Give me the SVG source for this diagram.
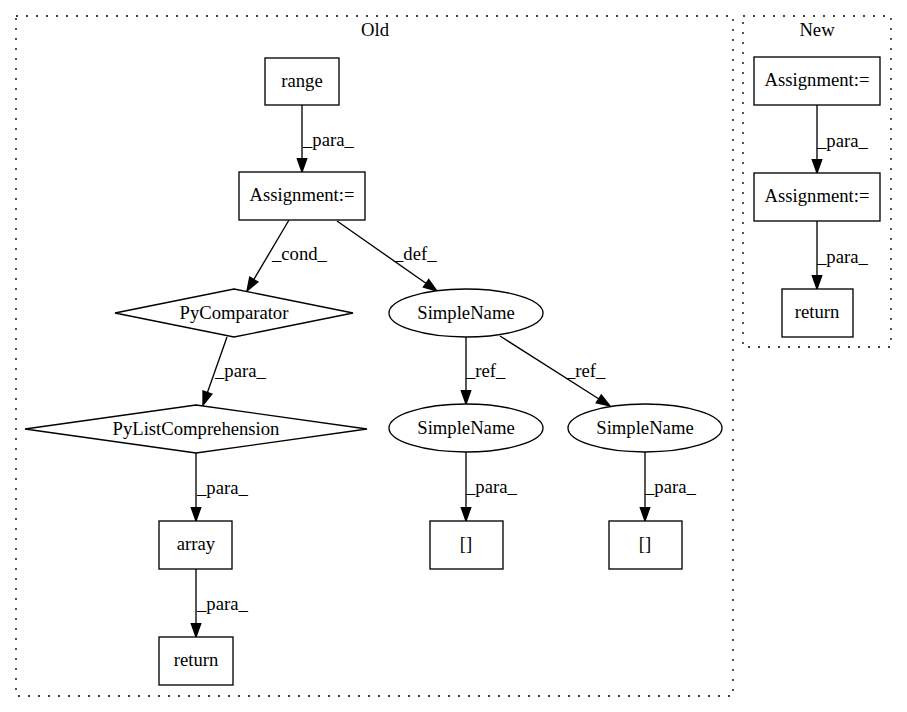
<svg xmlns="http://www.w3.org/2000/svg" width="907" height="712" viewBox="0 0 907 712">
<style>
text{font-family:"Liberation Serif","Times New Roman",serif;font-size:18.67px;fill:#000}
.c{text-anchor:middle}
.n{fill:#fff;stroke:#000;stroke-width:1.33}
.cl{fill:none;stroke:#000;stroke-width:1.33;stroke-dasharray:2,8}
.e{fill:none;stroke:#000;stroke-width:1.33;marker-end:url(#ah)}
</style>
<defs>
<marker id="ah" markerUnits="userSpaceOnUse" markerWidth="15" markerHeight="11" refX="13.3" refY="4.7" orient="auto" overflow="visible">
<path d="M0,0 L13.3,4.7 L0,9.4 z" fill="#000" stroke="#000" stroke-width="1.33"/>
</marker>
</defs>
<rect width="907" height="712" fill="#fff"/>
<g id="cluster_old">
<rect class="cl" x="16" y="16" width="717" height="680"/>
<text class="c" x="375" y="36">Old</text>
</g>
<g id="cluster_new">
<rect class="cl" x="743" y="16" width="148" height="331"/>
<text class="c" x="817" y="36">New</text>
</g>
<g id="edges">
<line class="e" x1="302" y1="105" x2="302" y2="172"/>
<text x="303" y="146">_para_</text>
<line class="e" x1="289" y1="220" x2="247" y2="291"/>
<text x="272" y="260">_cond_</text>
<line class="e" x1="337" y1="221" x2="437" y2="291"/>
<text x="394" y="260">_def_</text>
<line class="e" x1="227" y1="337" x2="203" y2="405"/>
<text x="215" y="377">_para_</text>
<line class="e" x1="196" y1="453" x2="196" y2="521"/>
<text x="197" y="494">_para_</text>
<line class="e" x1="196" y1="569" x2="196" y2="637"/>
<text x="197" y="610">_para_</text>
<line class="e" x1="466" y1="337" x2="466" y2="404"/>
<text x="466" y="377">_ref_</text>
<line class="e" x1="500" y1="336" x2="610" y2="406"/>
<text x="566" y="377">_ref_</text>
<line class="e" x1="466" y1="452" x2="466" y2="521"/>
<text x="466" y="493">_para_</text>
<line class="e" x1="645" y1="452" x2="645" y2="521"/>
<text x="645" y="493">_para_</text>
<line class="e" x1="817" y1="105" x2="817" y2="173"/>
<text x="817" y="147">_para_</text>
<line class="e" x1="817" y1="221" x2="817" y2="289"/>
<text x="817" y="263">_para_</text>
</g>
<g id="range"><rect class="n" x="265" y="58" width="74" height="47"/><text class="c" x="302" y="87">range</text></g>
<g id="assign_old"><rect class="n" x="239" y="172" width="126" height="48"/><text class="c" x="302" y="201">Assignment:=</text></g>
<g id="pycomparator"><polygon class="n" points="234,289 353,313 234,337 115,313"/><text class="c" x="234" y="319">PyComparator</text></g>
<g id="pylistcomp"><polygon class="n" points="196,405 367,429 196,453 25,429"/><text class="c" x="196" y="435">PyListComprehension</text></g>
<g id="array"><rect class="n" x="159" y="521" width="73" height="48"/><text class="c" x="196" y="550">array</text></g>
<g id="return_old"><rect class="n" x="159" y="637" width="74" height="48"/><text class="c" x="196" y="666">return</text></g>
<g id="simplename_top"><ellipse class="n" cx="466" cy="313" rx="77" ry="24"/><text class="c" x="466" y="319">SimpleName</text></g>
<g id="simplename_left"><ellipse class="n" cx="466" cy="428" rx="77" ry="24"/><text class="c" x="466" y="434">SimpleName</text></g>
<g id="simplename_right"><ellipse class="n" cx="645" cy="428" rx="77" ry="24"/><text class="c" x="645" y="434">SimpleName</text></g>
<g id="idx_left"><rect class="n" x="430" y="521" width="73" height="48"/><text class="c" x="466" y="550">[]</text></g>
<g id="idx_right"><rect class="n" x="609" y="521" width="73" height="48"/><text class="c" x="645" y="550">[]</text></g>
<g id="assign_new1"><rect class="n" x="754" y="57" width="126" height="48"/><text class="c" x="817" y="86">Assignment:=</text></g>
<g id="assign_new2"><rect class="n" x="754" y="173" width="126" height="48"/><text class="c" x="817" y="202">Assignment:=</text></g>
<g id="return_new"><rect class="n" x="782" y="289" width="71" height="48"/><text class="c" x="817" y="318">return</text></g>
</svg>
